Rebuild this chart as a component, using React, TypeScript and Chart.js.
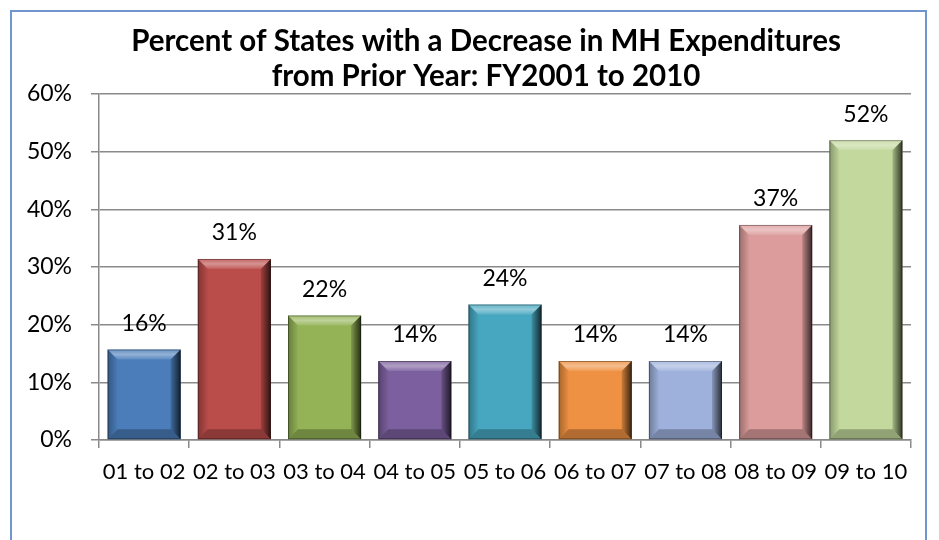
import React, { useEffect, useRef } from "react";
import { Chart, registerables } from "chart.js";

Chart.register(...registerables);

const categories = ["01 to 02", "02 to 03", "03 to 04", "04 to 05", "05 to 06", "06 to 07", "07 to 08", "08 to 09", "09 to 10"];
const percentDecrease = [15.7, 31.4, 21.6, 13.7, 23.5, 13.7, 13.7, 37.3, 52.0];
const barColors = ["#4A7DBA", "#BA4C4A", "#93B356", "#7C5F9E", "#47A7C0", "#EE9142", "#9EB1DC", "#DD9C9C", "#C2D89C"];
const titleLines = ["Percent of States with a Decrease in MH Expenditures", "from Prior Year: FY2001 to 2010"];
const yTicks = { min: 0, max: 60, step: 10 };

const FONT = "Lato, 'Open Sans', sans-serif";

const framePlugin = {
  id: "frame",
  beforeDraw(chart: any) {
    const ctx = chart.ctx;
    ctx.save();
    ctx.fillStyle = "#ffffff";
    ctx.fillRect(0, 0, chart.width, chart.height);
    ctx.strokeStyle = "#6F95CC";
    ctx.lineWidth = 2;
    ctx.strokeRect(11, 11, chart.width - 22 - 2, chart.height + 20);
    ctx.fillStyle = "#000000";
    ctx.font = `bold 29.5px ${FONT}`;
    ctx.textAlign = "center";
    ctx.textBaseline = "middle";
    const cx = 486;
    titleLines.forEach((line, i) => ctx.fillText(line, cx, 41 + i * 35));
    ctx.restore();
  },
};

const bevelPlugin = {
  id: "bevel",
  afterDatasetsDraw(chart: any) {
    const ctx = chart.ctx;
    const meta = chart.getDatasetMeta(0);
    const data = chart.data.datasets[0].data as number[];
    meta.data.forEach((bar: any, i: number) => {
      const p = bar.getProps(["x", "y", "base", "width"], true);
      const l = p.x - p.width / 2;
      const r = p.x + p.width / 2;
      const t = p.y;
      const btm = p.base;
      const b = Math.min(10, (btm - t) / 2);
      ctx.save();
      ctx.beginPath();
      ctx.moveTo(l, t); ctx.lineTo(r, t); ctx.lineTo(r - b, t + b); ctx.lineTo(l + b, t + b); ctx.closePath();
      const gt = ctx.createLinearGradient(0, t, 0, t + b);
      gt.addColorStop(0, "rgba(255,255,255,0.15)");
      gt.addColorStop(0.5, "rgba(255,255,255,0.4)");
      gt.addColorStop(1, "rgba(255,255,255,0.1)");
      ctx.fillStyle = gt; ctx.fill();
      ctx.beginPath();
      ctx.moveTo(l, btm); ctx.lineTo(r, btm); ctx.lineTo(r - b, btm - b); ctx.lineTo(l + b, btm - b); ctx.closePath();
      ctx.fillStyle = "rgba(0,0,0,0.25)"; ctx.fill();
      ctx.beginPath();
      ctx.moveTo(l, t); ctx.lineTo(l + b, t + b); ctx.lineTo(l + b, btm - b); ctx.lineTo(l, btm); ctx.closePath();
      const gl = ctx.createLinearGradient(l, 0, l + b, 0);
      gl.addColorStop(0, "rgba(0,0,0,0.3)");
      gl.addColorStop(1, "rgba(0,0,0,0.02)");
      ctx.fillStyle = gl; ctx.fill();
      ctx.beginPath();
      ctx.moveTo(r, t); ctx.lineTo(r - b, t + b); ctx.lineTo(r - b, btm - b); ctx.lineTo(r, btm); ctx.closePath();
      const gr = ctx.createLinearGradient(r - b, 0, r, 0);
      gr.addColorStop(0, "rgba(0,0,0,0.15)");
      gr.addColorStop(1, "rgba(0,0,0,0.75)");
      ctx.fillStyle = gr; ctx.fill();
      ctx.strokeStyle = "rgba(0,0,0,0.35)";
      ctx.lineWidth = 1;
      ctx.strokeRect(l + 0.5, t + 0.5, p.width - 1, btm - t - 1);
      ctx.fillStyle = "#000000";
      ctx.font = `23px ${FONT}`;
      ctx.textAlign = "center";
      ctx.textBaseline = "middle";
      ctx.fillText(Math.round(data[i]) + "%", p.x, t - 26);
      ctx.restore();
    });
  },
};

export default function App() {
  const ref = useRef<HTMLCanvasElement>(null);
  useEffect(() => {
    if (!ref.current) return;
    const chart = new Chart(ref.current, {
      type: "bar",
      data: {
        labels: categories,
        datasets: [
          {
            data: percentDecrease,
            backgroundColor: barColors,
            borderWidth: 0,
            barPercentage: 0.81,
            categoryPercentage: 1,
          },
        ],
      },
      options: {
        responsive: false,
        animation: false,
        layout: { padding: { left: 10, right: 28, top: 94, bottom: 0 } },
        plugins: {
          legend: { display: false },
          tooltip: { enabled: false },
          title: { display: false },
        },
        scales: {
          x: {
            grid: { display: true, drawOnChartArea: false, drawTicks: true, tickLength: 8, color: "#8A8A8A", lineWidth: 1.5 },
            border: { display: true, color: "#8A8A8A", width: 1.5 },
            ticks: { color: "#000000", font: { family: FONT, size: 22 }, padding: 11, maxRotation: 0, autoSkip: false },
            afterFit(scale: any) { scale.height = 100; },
          },
          y: {
            min: yTicks.min,
            max: yTicks.max,
            grid: { color: "#8A8A8A", lineWidth: 1.5, tickLength: 8 },
            border: { display: true, color: "#8A8A8A", width: 1.5 },
            ticks: {
              stepSize: yTicks.step,
              color: "#000000",
              font: { family: FONT, size: 23 },
              padding: 19,
              callback: (v: any) => v + "%",
            },
            afterFit(scale: any) { scale.width = 89; },
          },
        },
      },
      plugins: [framePlugin, bevelPlugin],
    });
    return () => chart.destroy();
  }, []);
  return (
    <div style={{ position: "absolute", left: 0, top: 0, width: 939, height: 540, background: "#fff" }}>
      <canvas ref={ref} width={939} height={540} style={{ width: 939, height: 540, display: "block" }} />
    </div>
  );
}
